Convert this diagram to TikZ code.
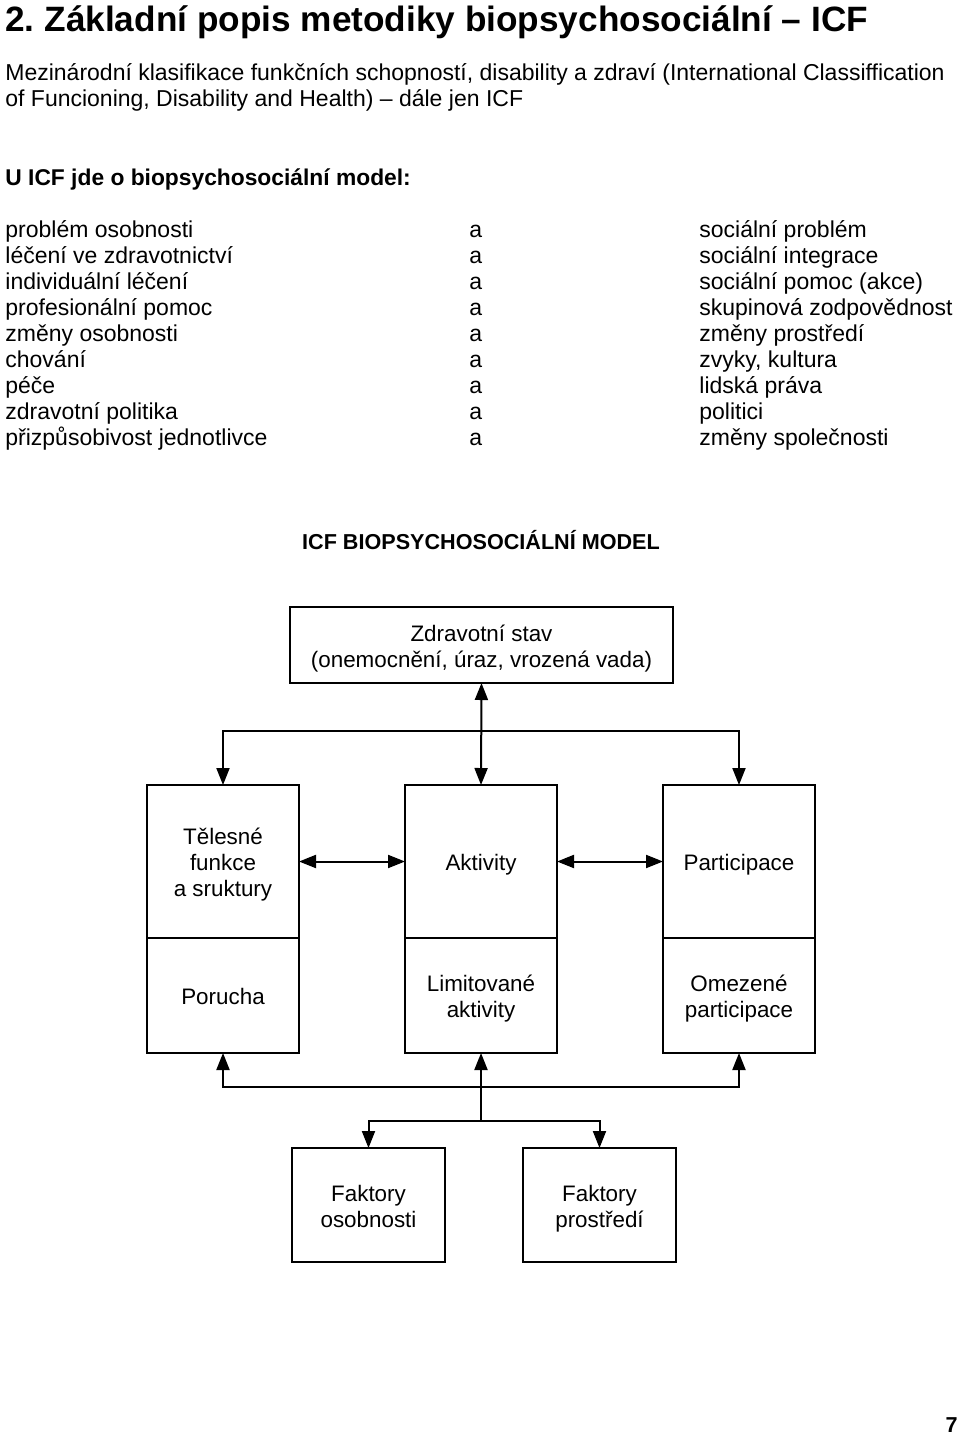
\documentclass[tikz,border=0pt]{standalone}
\usepackage{fontspec}
\setmainfont{Liberation Sans}
\usetikzlibrary{arrows.meta,positioning}

\newcommand{\boxtop}{\rule{0pt}{13pt}}
\tikzset{
    box/.style={draw,line width=1pt,inner sep=0pt,outer sep=0pt,align=center,font=\fontsize{11.2}{13}\selectfont},
    txt/.style={anchor=base west,inner sep=0pt,font=\fontsize{11.5}{13}\selectfont},
    arr/.style={line width=1pt,-{Triangle[length=8.5pt,width=6.5pt]}},
    darr/.style={line width=1pt,{Triangle[length=8.5pt,width=6.5pt]}-{Triangle[length=8.5pt,width=6.5pt]}}
}

\begin{document}
\begin{tikzpicture}[x=0.5pt,y=-0.5pt]
    \useasboundingbox (0,0) rectangle (960,1435);
    \node[txt,font=\fontsize{17.6}{20}\bfseries] (title) at (5,31) {2.\ Základní popis metodiky biopsychosociální -- ICF};
    \node[txt] (intro1) at (5,80) {Mezinárodní klasifikace funkčních schopností, disability a zdraví (International Classiffication};
    \node[txt] (intro2) at (5,106) {of Funcioning, Disability and Health) -- dále jen ICF};
    \node[txt,font=\fontsize{11.4}{13}\bfseries] (model) at (5,185) {U ICF jde o biopsychosociální model:};
    % list of pairs
    \foreach \l/\r [count=\i from 0] in {problém osobnosti/sociální problém,
        léčení ve zdravotnictví/sociální integrace,
        individuální léčení/sociální pomoc (akce),
        profesionální pomoc/skupinová zodpovědnost,
        změny osobnosti/změny prostředí,
        chování/{zvyky, kultura},
        péče/lidská práva,
        zdravotní politika/politici,
        přizpůsobivost jednotlivce/změny společnosti} {
        \node[txt] (left\i) at (5,237+26*\i) {\l};
        \node[txt] (and\i) at (469,237+26*\i) {a};
        \node[txt] (right\i) at (699,237+26*\i) {\r};
    }
    \node[anchor=base,inner sep=0pt,font=\fontsize{10.8}{13}\bfseries] (head) at (481,549) {ICF BIOPSYCHOSOCIÁLNÍ MODEL};
    % boxes
    \node[box,minimum width=383*0.5pt,minimum height=76*0.5pt] (stav) at (481.5,645) {\boxtop Zdravotní stav\\(onemocnění, úraz, vrozená vada)\strut};
    \node[box,minimum width=152*0.5pt,minimum height=153*0.5pt] (telo) at (223,861.5) {\boxtop Tělesné\\funkce\\a sruktury\strut};
    \node[box,minimum width=152*0.5pt,minimum height=153*0.5pt] (akt) at (481,861.5) {\boxtop Aktivity\strut};
    \node[box,minimum width=152*0.5pt,minimum height=153*0.5pt] (part) at (739,861.5) {\boxtop Participace\strut};
    \node[box,minimum width=152*0.5pt,minimum height=115*0.5pt,below=0pt of telo] (poruch) {\boxtop Porucha\strut};
    \node[box,minimum width=152*0.5pt,minimum height=115*0.5pt,below=0pt of akt] (limit) {\boxtop Limitované\\aktivity\strut};
    \node[box,minimum width=152*0.5pt,minimum height=115*0.5pt,below=0pt of part] (omez) {\boxtop Omezené\\participace\strut};
    \node[box,minimum width=153*0.5pt,minimum height=114*0.5pt] (fos) at (368.5,1205) {\boxtop Faktory\\osobnosti\strut};
    \node[box,minimum width=153*0.5pt,minimum height=114*0.5pt] (fpr) at (599.5,1205) {\boxtop Faktory\\prostředí\strut};
    % connectors
    \coordinate (top) at (481,731);
    \coordinate (mid) at (481,1087);
    \coordinate (low) at (481,1121);
    \draw[darr] (stav.south) -- (akt.north);
    \draw[arr] (top) -| (telo.north);
    \draw[arr] (top) -| (part.north);
    \draw[darr] (telo.east) -- (akt.west);
    \draw[darr] (akt.east) -- (part.west);
    \draw[arr] (mid) -| (poruch.south);
    \draw[arr] (mid) -| (omez.south);
    \draw[arr] (low) -- (limit.south);
    \draw[arr] (low) -| (fos.north);
    \draw[arr] (low) -| (fpr.north);
    \node[anchor=base east,inner sep=0pt,font=\fontsize{10.8}{13}\bfseries] (page) at (958,1432) {7};
\end{tikzpicture}
\end{document}
